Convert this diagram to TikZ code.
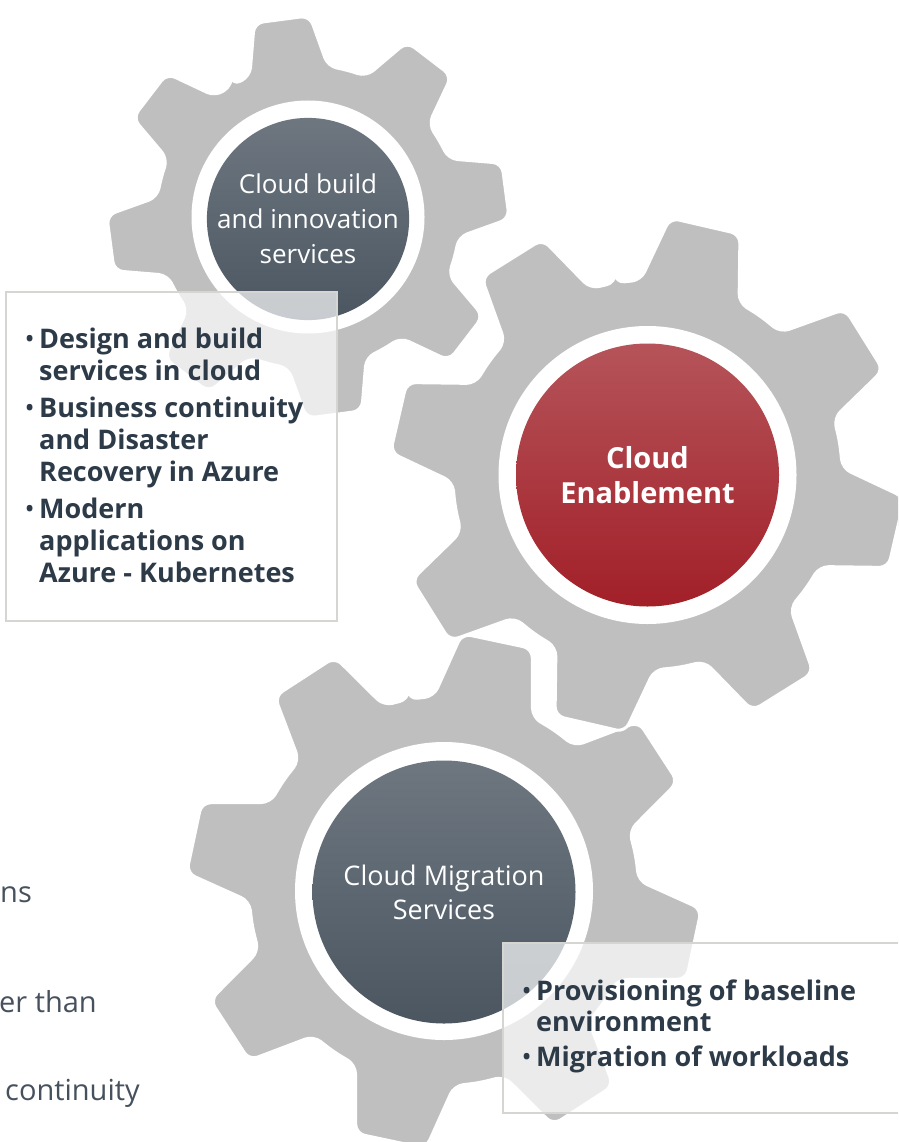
\documentclass[tikz,border=0pt]{standalone}
\usepackage{fontspec}
\setmainfont{Open Sans}
\usetikzlibrary{positioning}

\definecolor{gearcol}{HTML}{BFBFBF}
\definecolor{slatetop}{HTML}{6E7780}
\definecolor{slatebot}{HTML}{4B5661}
\definecolor{redtop}{HTML}{B5545A}
\definecolor{redbot}{HTML}{A21F28}
\definecolor{inktext}{HTML}{2D3A48}
\definecolor{boxline}{HTML}{D5D5D1}
\definecolor{sidetext}{HTML}{46515D}

\newcommand{\itm}{\llap{\mdseries•\,}}

\tikzset{
  gearbody/.style={fill=gearcol, draw=white, line width=3pt, rounded corners=9pt},
  ring/.style={circle, fill=white, inner sep=0pt},
  hub/.style={circle, inner sep=0pt, text=white, align=center},
  listbox/.style={draw=boxline, line width=2pt, fill=white, fill opacity=0.7},
  listtext/.style={inner sep=0pt, align=left, text=inktext, font=\fontsize{27}{32}\selectfont\bfseries},
  sidenote/.style={inner sep=0pt, text=sidetext, font=\fontsize{29}{34}\selectfont}
}

% one cog: centre x, centre y, scale, phase
\newcommand{\cog}[4]{%
\begin{scope}[shift={(#1,#2)}, scale=#3]
\filldraw[gearbody] (#4-22.5:195) \foreach \k in {0,...,7} {
  -- (#4+45*\k-15:195) -- (#4+45*\k-8:258) -- (#4+45*\k+8:258)
  -- (#4+45*\k+15:195) -- (#4+45*\k+22.5:195)} -- cycle;
\end{scope}}

\begin{document}
\begin{tikzpicture}[x=1pt,y=-1pt]
\useasboundingbox (0,0) rectangle (898,1142);
\clip (0,0) rectangle (898,1142);

% cogs
\cog{444}{891}{1}{-78}
\cog{647.5}{475}{1}{-77}
\cog{308}{217}{0.78}{-97.5}

% hubs
\node[ring, minimum size=233pt] (buildring) at (308,217) {};
\node[hub, minimum size=194pt, top color=slatetop, bottom color=slatebot,
  font=\fontsize{26}{35}\selectfont] (build) at (308,219) {Cloud build\\and innovation\\services};
\node[ring, minimum size=298pt] (enablering) at (647.5,475) {};
\node[hub, minimum size=263pt, top color=redtop, bottom color=redbot,
  font=\fontsize{29}{35}\selectfont\bfseries] (enable) at (647.5,475) {Cloud\\Enablement};
\node[ring, minimum size=298pt] (migratering) at (444,891) {};
\node[hub, minimum size=263pt, top color=slatetop, bottom color=slatebot,
  font=\fontsize{27}{34}\selectfont] (migrate) at (444,892) {Cloud Migration\\Services};

% lists
\draw[listbox] (6,292) rectangle (337,621);
\node[listtext, anchor=north west] (buildlist) at (39,327.5) {\itm Design and build\\services in cloud\\[5pt]
  \itm Business continuity\\and Disaster\\Recovery in Azure\\[5pt]
  \itm Modern\\applications on\\Azure - Kubernetes};
\draw[listbox] (503,943) rectangle (910,1113);
\node[listtext, anchor=north west, font=\fontsize{27}{31}\selectfont\bfseries] (migratelist) at (536,979.5)
  {\itm Provisioning of baseline\\environment\\[4pt]
  \itm Migration of workloads};

% cut-off text at the left edge
\node[sidenote, anchor=base west] (sidea) at (0,902) {ns};
\node[sidenote, anchor=base east] (sideb) at (97,1012) {er than};
\node[sidenote, anchor=base west] (sidec) at (5,1100) {continuity};
\end{tikzpicture}
\end{document}
